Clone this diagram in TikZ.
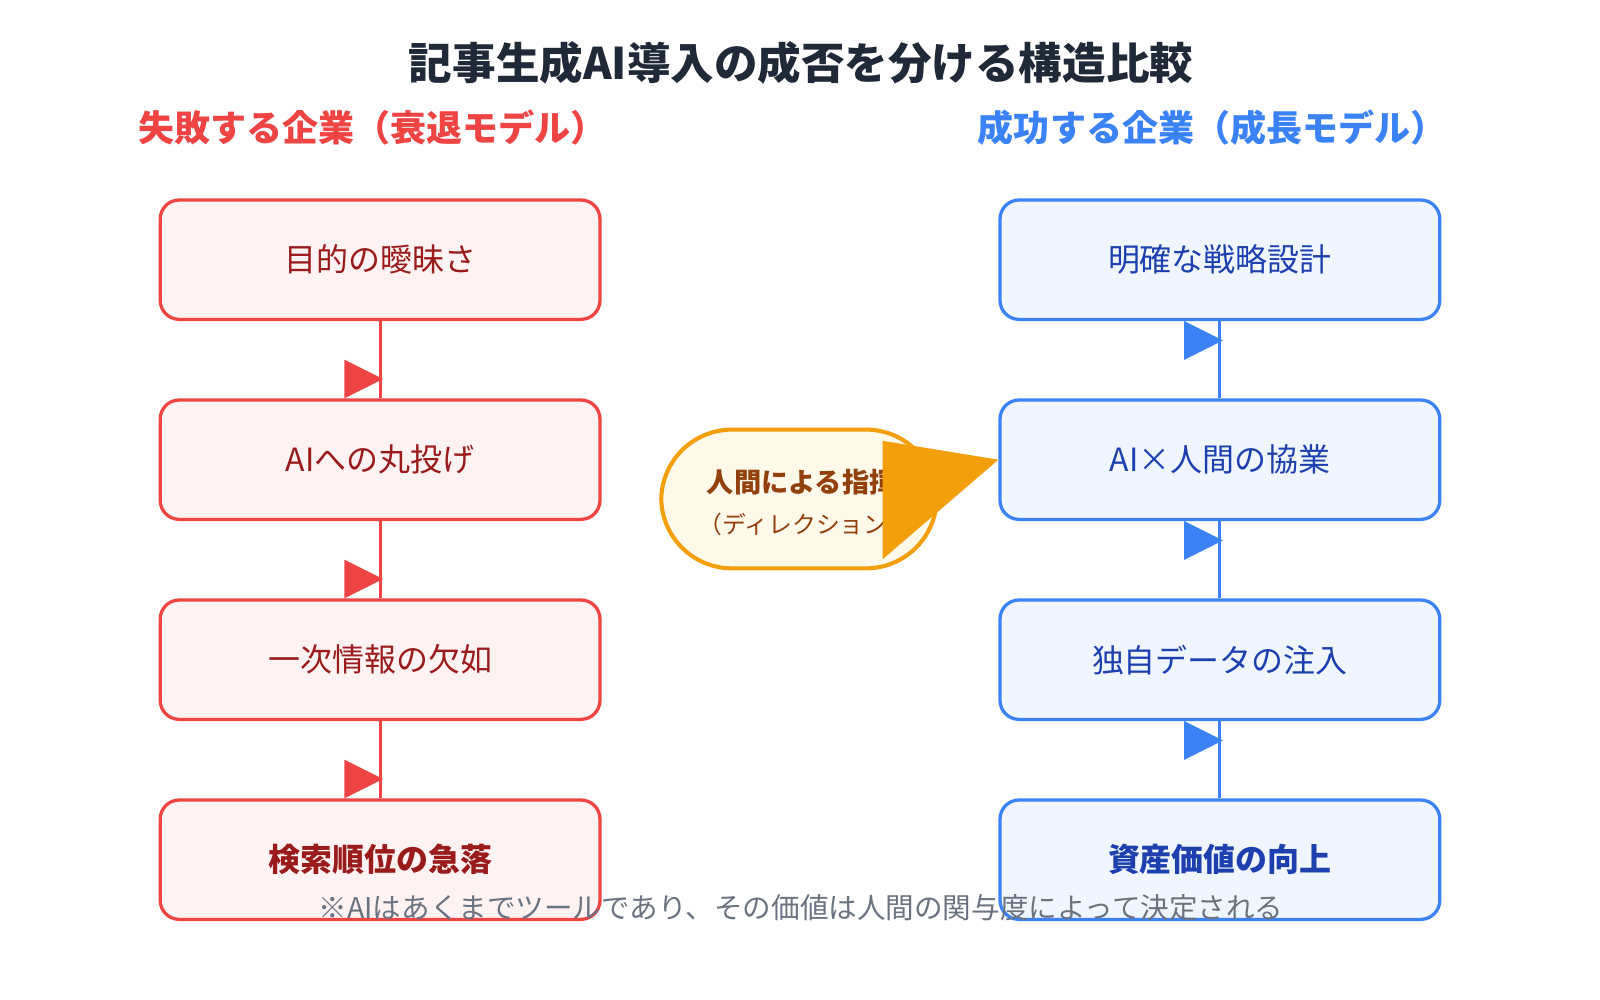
\documentclass[tikz,border=0pt]{standalone}
\usepackage{fontspec}
\setmainfont{Noto Sans CJK JP}
\definecolor{red5}{RGB}{239,68,68}
\definecolor{redf}{RGB}{254,242,242}
\definecolor{redt}{RGB}{153,27,27}
\definecolor{blu5}{RGB}{59,130,246}
\definecolor{bluf}{RGB}{239,246,255}
\definecolor{blut}{RGB}{30,64,175}
\definecolor{amb}{RGB}{243,158,11}
\definecolor{ambf}{RGB}{254,249,233}
\definecolor{ambt}{RGB}{146,64,14}
\definecolor{ttl}{RGB}{31,41,55}
\definecolor{gry}{RGB}{107,114,128}
\begin{document}
\begin{tikzpicture}[x=0.75pt,y=-0.75pt,
 rbox/.style={draw=red5,fill=redf,line width=2.4pt,rounded corners=14pt,minimum width=431*0.75pt,minimum height=117*0.75pt,text=redt,font=\fontsize{23.5}{28}\selectfont},
 bbox/.style={draw=blu5,fill=bluf,line width=2.4pt,rounded corners=14pt,minimum width=431*0.75pt,minimum height=117*0.75pt,text=blut,font=\fontsize{23.5}{28}\selectfont},
 rcon/.style={draw=red5,line width=2.2pt},
 bcon/.style={draw=blu5,line width=2.2pt}]
\useasboundingbox (0,0) rectangle (1568,980);
\node[font=\fontsize{32}{38}\selectfont\bfseries,text=ttl] (title) at (785,62) {記事生成AI導入の成否を分ける構造比較};
\node[font=\fontsize{26.5}{32}\selectfont\bfseries,text=red5] (lh) at (365,125) {失敗する企業（衰退モデル）};
\node[font=\fontsize{26.5}{32}\selectfont\bfseries,text=blu5] (rh) at (1188,125) {成功する企業（成長モデル）};
\node[rbox] (l1) at (372.5,254.5) {目的の曖昧さ};
\node[rbox] (l2) at (372.5,450.5) {AIへの丸投げ};
\node[rbox] (l3) at (372.5,646.5) {一次情報の欠如};
\node[rbox,font=\fontsize{23.5}{28}\selectfont\bfseries] (l4) at (372.5,842.5) {検索順位の急落};
\node[bbox] (r1) at (1195.5,254.5) {明確な戦略設計};
\node[bbox] (r2) at (1195.5,450.5) {AI×人間の協業};
\node[bbox] (r3) at (1195.5,646.5) {独自データの注入};
\node[bbox,font=\fontsize{23.5}{28}\selectfont\bfseries] (r4) at (1195.5,842.5) {資産価値の向上};
\foreach \a/\b in {l1/l2,l2/l3,l3/l4}{
 \draw[rcon] (\a.south) -- (\b.north);
 \fill[red5] ([xshift=-35*0.75pt]\b.north) -- ++(0,-38) -- ++(38,19) -- cycle;}
\foreach \a/\b in {r4/r3,r3/r2,r2/r1}{
 \draw[bcon] (\a.north) -- (\b.south);
 \fill[blu5] ([xshift=-35*0.75pt]\b.south) -- ++(0,38) -- ++(38,-19) -- cycle;}
\node[draw=amb,fill=ambf,line width=3pt,rounded corners=52pt,minimum width=270*0.75pt,minimum height=136*0.75pt] (pill) at (783,489) {};
\node[anchor=west,font=\fontsize{20}{24}\selectfont\bfseries,text=ambt] (pt1) at (688,473) {人間による指揮};
\node[anchor=west,font=\fontsize{17.5}{21}\selectfont,text=ambt] (pt2) at (680,514) {（ディレクション）};
\coordinate (tip) at (r2.west);
\fill[amb] (865,432) -- (tip) -- (865,548) -- cycle;
\node[font=\fontsize{21}{25}\selectfont,text=gry] (foot) at (785,890) {※AIはあくまでツールであり、その価値は人間の関与度によって決定される};
\end{tikzpicture}
\end{document}
